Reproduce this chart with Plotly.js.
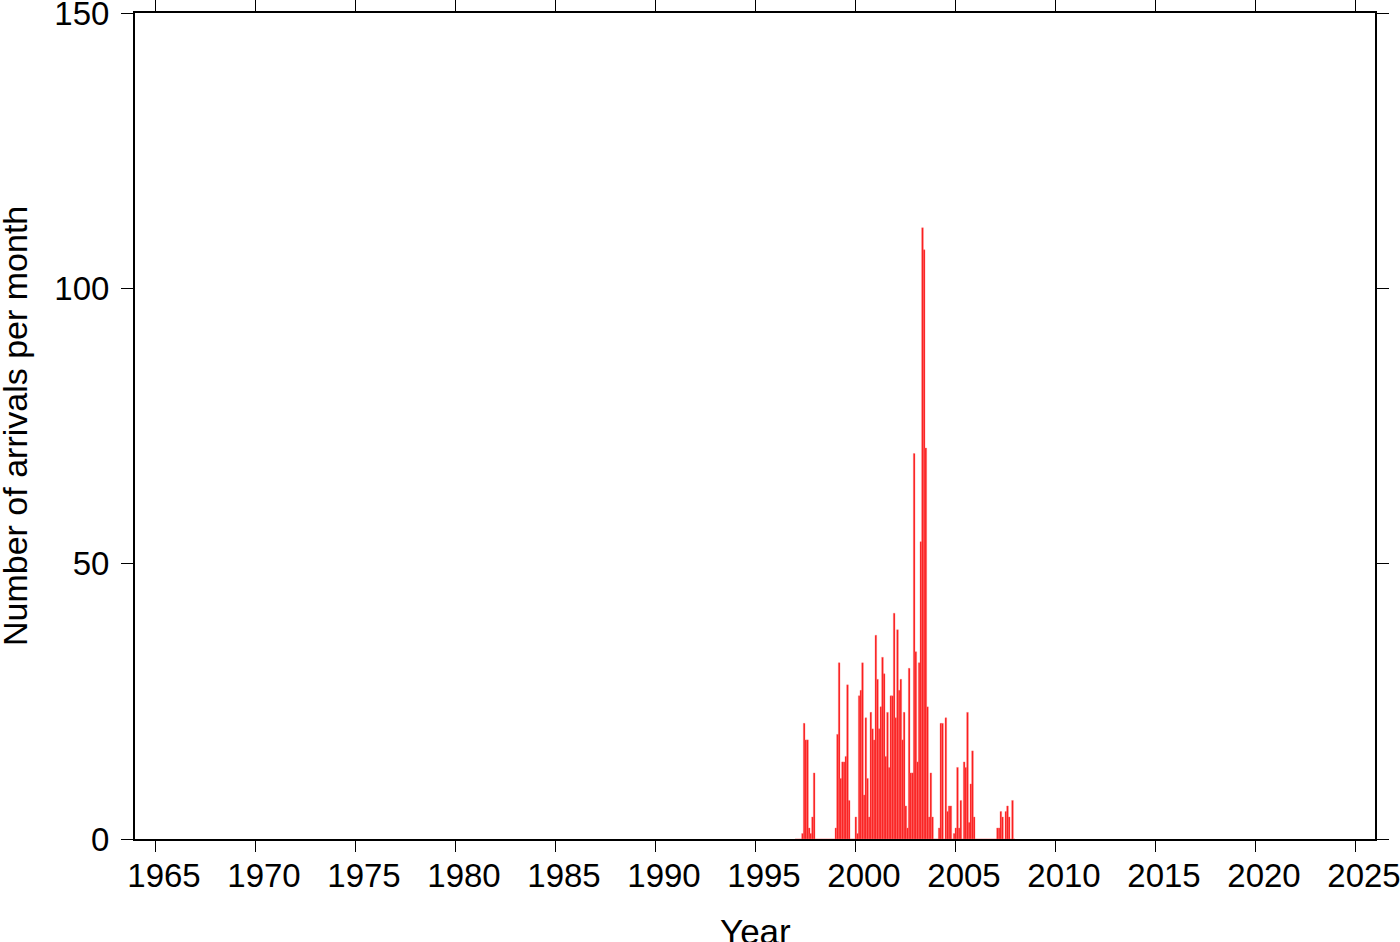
<!DOCTYPE html>
<html>
<head>
<meta charset="utf-8">
<script src="https://cdn.plot.ly/plotly-3.0.1.min.js"></script>
<style>html,body{margin:0;padding:0;background:#fff;}#chart{width:1400px;height:942px;}</style>
</head>
<body>
<div id="chart"></div>
<script>
// Monthly arrival counts, January through December, by year
const years = [1997, 1998, 1999, 2000, 2001, 2002, 2003, 2004, 2005, 2006, 2007];
const counts1997 = [0, 0, 0, 0, 1, 21, 18, 18, 2, 1, 4, 12];
const counts1998 = [0, 0, 0, 0, 0, 0, 0, 0, 0, 0, 0, 0];
const counts1999 = [2, 19, 32, 11, 14, 14, 15, 28, 7, 0, 0, 0];
const counts2000 = [4, 1, 26, 27, 32, 8, 22, 11, 4, 23, 20, 18];
const counts2001 = [37, 29, 20, 24, 33, 30, 15, 23, 13, 26, 26, 41];
const counts2002 = [22, 38, 27, 29, 18, 23, 6, 2, 31, 12, 12, 70];
const counts2003 = [34, 14, 32, 54, 111, 107, 71, 24, 4, 12, 4, 0];
const counts2004 = [0, 0, 2, 21, 21, 0, 22, 5, 6, 6, 0, 1];
const counts2005 = [2, 13, 2, 7, 0, 14, 13, 23, 3, 10, 16, 4];
const counts2006 = [0, 0, 0, 0, 0, 0, 0, 0, 0, 0, 0, 0];
const counts2007 = [0, 2, 2, 5, 4, 0, 5, 6, 4, 0, 7, 0];
const allCounts = [counts1997, counts1998, counts1999, counts2000, counts2001, counts2002,
                   counts2003, counts2004, counts2005, counts2006, counts2007];

const xTickVals = [1965, 1970, 1975, 1980, 1985, 1990, 1995, 2000, 2005, 2010, 2015, 2020, 2025];
const yTickVals = [0, 50, 100, 150];
const xTitle = 'Year';
const yTitle = 'Number of arrivals per month';

// Build decimal-year month centres from the tables above
const xs = [], ys = [];
years.forEach((yr, i) => {
  allCounts[i].forEach((c, m) => {
    xs.push(yr + (m + 0.5) / 12);
    ys.push(c);
  });
});

const font = 'Liberation Sans, Arial, Helvetica, sans-serif';
const W = 1400, H = 942;
const M = { l: 135, r: 25, t: 13, b: 103 };
const plotW = W - M.l - M.r;
const plotH = H - M.t - M.b;

const trace = {
  type: 'bar',
  x: xs,
  y: ys,
  width: 1 / 12,
  marker: { color: 'rgb(250,20,20)', line: { color: 'rgb(255,120,120)', width: 0.4 } },
  hoverinfo: 'x+y'
};

const layout = {
  width: W,
  height: H,
  margin: { l: M.l, r: M.r, t: M.t, b: M.b, pad: 0 },
  paper_bgcolor: '#ffffff',
  plot_bgcolor: '#ffffff',
  showlegend: false,
  bargap: 0,
  font: { family: font, color: '#000', size: 33 },
  xaxis: {
    range: [1964, 2026],
    tickmode: 'array',
    tickvals: xTickVals,
    ticktext: xTickVals.map(String),
    ticks: 'outside',
    ticklen: 11,
    tickwidth: 1,
    tickcolor: '#000',
    mirror: 'ticks',
    showline: true,
    linecolor: '#000',
    linewidth: 2,
    showgrid: false,
    zeroline: false,
    ticklabelshift: 9,
    ticklabelstandoff: -5,
    ticklabeloverflow: 'allow',
    tickfont: { family: font, size: 33, color: '#000' },
    automargin: false
  },
  yaxis: {
    range: [0, 150],
    tickmode: 'array',
    tickvals: yTickVals,
    ticktext: yTickVals.map(String),
    ticks: 'outside',
    ticklen: 12,
    tickwidth: 1,
    tickcolor: '#000',
    mirror: 'ticks',
    showline: true,
    linecolor: '#000',
    linewidth: 2,
    showgrid: false,
    zeroline: false,
    ticklabelstandoff: 5,
    ticklabeloverflow: 'allow',
    tickfont: { family: font, size: 33, color: '#000' },
    automargin: false
  },
  annotations: [{
    text: yTitle,
    xref: 'paper', yref: 'paper',
    x: (15 - M.l) / plotW, y: 0.5,
    xanchor: 'center', yanchor: 'middle',
    textangle: -90,
    showarrow: false,
    font: { family: font, size: 34, color: '#000' }
  }, {
    text: xTitle,
    xref: 'paper', yref: 'paper',
    x: 0.5, y: (H - M.b - 931) / plotH,
    xanchor: 'center', yanchor: 'middle',
    showarrow: false,
    font: { family: font, size: 35, color: '#000' }
  }]
};

Plotly.newPlot('chart', [trace], layout, { displayModeBar: false, staticPlot: true });
</script>
</body>
</html>
